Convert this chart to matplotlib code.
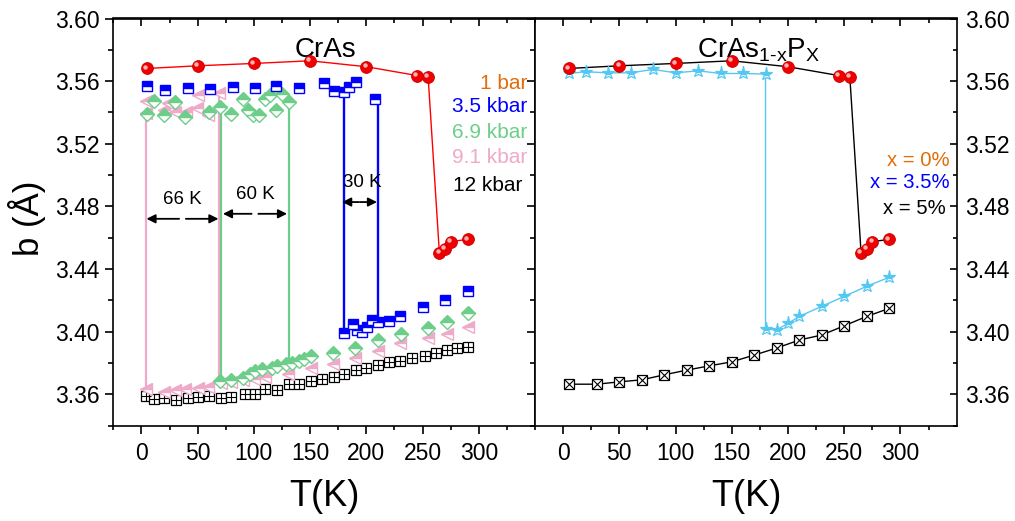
import matplotlib
matplotlib.use("Agg")
import matplotlib.pyplot as plt
from matplotlib.ticker import FixedLocator
from matplotlib.transforms import offset_copy

plt.rcParams['font.family'] = ['Liberation Sans', 'DejaVu Sans']
plt.rcParams['mathtext.fontset'] = 'custom'
plt.rcParams['mathtext.rm'] = 'Liberation Sans'
plt.rcParams['mathtext.it'] = 'Liberation Sans'

# ---------------- data ----------------
# CrAs, 1 bar (also x = 0 % in right panel)
T_1bar = [5, 50, 100, 150, 200, 245, 255, 265, 270, 275, 290]
b_1bar = [3.5681, 3.5698, 3.5713, 3.5730, 3.5692, 3.5636, 3.5624, 3.4500, 3.4530, 3.4576, 3.4589]

# 3.5 kbar
T_35_hi = [5, 21, 41, 61, 81, 101, 120, 140, 162, 171, 180, 185, 191, 208]
b_35_hi = [3.5568, 3.5542, 3.5557, 3.5549, 3.5564, 3.5557, 3.5568, 3.5555, 3.5585,
           3.5538, 3.5528, 3.5560, 3.5592, 3.5483]
T_35_lo = [180, 188, 192, 196, 201, 205, 210, 220, 230, 250, 270, 290]
b_35_lo = [3.3990, 3.4050, 3.4010, 3.4000, 3.4030, 3.4075, 3.4060, 3.4070, 3.4100,
           3.4160, 3.4205, 3.4260]

# 6.9 kbar
T_69_hi = [5, 11, 20, 30, 39, 60, 70, 80, 90, 95, 99, 105, 110, 114, 120, 125, 131]
b_69_hi = [3.5390, 3.5474, 3.5382, 3.5464, 3.5371, 3.5403, 3.5436, 3.5393, 3.5483,
           3.5414, 3.5382, 3.5382, 3.5483, 3.5510, 3.5414, 3.5521, 3.5468]
T_69_lo = [70, 80, 90, 97, 101, 107, 116, 121, 129, 134, 140, 145, 151, 170, 190, 210,
           231, 255, 272, 290]
b_69_lo = [3.3686, 3.3693, 3.3706, 3.3731, 3.3750, 3.3763, 3.3770, 3.3782, 3.3795,
           3.3802, 3.3814, 3.3827, 3.3846, 3.3866, 3.3898, 3.3949, 3.3987, 3.4026,
           3.4064, 3.4122]

# 9.1 kbar
T_91_hi = [4, 4, 20, 24, 30, 40, 49, 50, 59, 69]
b_91_hi = [3.5472, 3.5395, 3.5414, 3.5459, 3.5402, 3.5402, 3.5427, 3.5510, 3.5382, 3.5523]
T_91_lo = [4, 20, 30, 39, 50, 59, 71, 80, 90, 100, 110, 130, 151, 170, 190, 210, 230,
           255, 272, 290]
b_91_lo = [3.3633, 3.3612, 3.3625, 3.3633, 3.3643, 3.3648, 3.3675, 3.3680, 3.3691,
           3.3700, 3.3708, 3.3733, 3.3768, 3.3793, 3.3832, 3.3878, 3.3925, 3.3962,
           3.3987, 3.4032]

# 12 kbar
T_12 = [4, 11, 20, 31, 41, 50, 60, 71, 80, 92, 101, 110, 121, 131, 140, 151, 161, 171,
        180, 191, 200, 210, 220, 230, 241, 252, 262, 272, 281, 290]
b_12 = [3.3590, 3.3569, 3.3576, 3.3563, 3.3576, 3.3586, 3.3590, 3.3576, 3.3586, 3.3601,
        3.3605, 3.3633, 3.3627, 3.3665, 3.3665, 3.3686, 3.3701, 3.3708, 3.3733, 3.3755,
        3.3768, 3.3789, 3.3804, 3.3814, 3.3834, 3.3846, 3.3866, 3.3885, 3.3898, 3.3904]

# transitions (temperature, upper b, lower b)
trans_91 = [(4, 3.5395, 3.3633), (69, 3.5523, 3.3680)]
trans_69 = [(71, 3.5436, 3.3686), (131, 3.5468, 3.3795)]
trans_35 = [(180, 3.5528, 3.3990), (210, 3.5483, 3.4060)]

# hysteresis widths: (label, T_left, T_right, b_level)
widths = [("66 K", 4, 69, 3.4721), ("60 K", 72, 130, 3.4753), ("30 K", 178, 210, 3.4828)]

# CrAs1-xPx, x = 3.5 %
T_35P = [5, 20, 40, 60, 80, 100, 120, 140, 160, 180, 180, 190, 200, 210, 230, 250, 270, 290]
b_35P = [3.5649, 3.5660, 3.5653, 3.5653, 3.5675, 3.5653, 3.5666, 3.5649, 3.5649, 3.5645,
         3.4017, 3.4013, 3.4053, 3.4098, 3.4162, 3.4226, 3.4290, 3.4348]
# x = 5 %
T_5P = [5, 30, 50, 70, 90, 110, 130, 150, 170, 190, 210, 230, 250, 270, 290]
b_5P = [3.3665, 3.3665, 3.3680, 3.3693, 3.3725, 3.3755, 3.3782, 3.3808, 3.3851, 3.3896,
        3.3947, 3.3979, 3.4038, 3.4098, 3.4149]

left_labels = ["1 bar", "3.5 kbar", "6.9 kbar", "9.1 kbar", "12 kbar"]
right_labels = ["x = 0%", "x = 3.5%", "x = 5%"]

C_RED = '#FF0000'
C_ORANGE = '#E36C0A'
C_BLUE = '#0000FF'
C_GREEN = '#6DCE8A'
C_PINK = '#EFA9C9'
C_CYAN = '#55C8F2'

# ---------------- figure ----------------
W, H = 1015, 521
fig = plt.figure(figsize=(W / 100, H / 100), dpi=100)
x0, xm, x1 = 113.3, 535.0, 956.7
ytop, ybot = 18.5, 425.7
axL = fig.add_axes([x0 / W, 1 - ybot / H, (xm - x0) / W, (ybot - ytop) / H])
axR = fig.add_axes([xm / W, 1 - ybot / H, (x1 - xm) / W, (ybot - ytop) / H])

XMAJ = [0, 50, 100, 150, 200, 250, 300]
XMIN = [-25, 25, 75, 125, 175, 225, 275, 325]
YMAJ = [3.36, 3.40, 3.44, 3.48, 3.52, 3.56, 3.60]
YMIN = [3.34, 3.38, 3.42, 3.46, 3.50, 3.54, 3.58]

for ax in (axL, axR):
    ax.set_xlim(-25, 350)
    ax.set_ylim(3.34, 3.60)
    ax.xaxis.set_major_locator(FixedLocator(XMAJ))
    ax.xaxis.set_minor_locator(FixedLocator(XMIN))
    ax.yaxis.set_major_locator(FixedLocator(YMAJ))
    ax.yaxis.set_minor_locator(FixedLocator(YMIN))
    ax.yaxis.set_major_formatter(plt.FormatStrFormatter('%.2f'))
    for s in ax.spines.values():
        s.set_linewidth(1.2)
    ax.tick_params(axis='x', which='both', direction='out', top=False, bottom=True,
                   labelsize=16.5, width=1.2, pad=6.5)
    ax.tick_params(axis='x', which='major', length=5.5)
    ax.tick_params(axis='x', which='minor', length=3.2)
    secx = ax.secondary_xaxis('top')
    secx.xaxis.set_major_locator(FixedLocator(XMAJ))
    secx.xaxis.set_minor_locator(FixedLocator(XMIN))
    secx.tick_params(axis='x', which='both', direction='in', labeltop=False, width=1.2)
    secx.tick_params(axis='x', which='major', length=5.5)
    secx.tick_params(axis='x', which='minor', length=3.5)
    secx.spines['top'].set_linewidth(1.2)

# left panel y axis
axL.tick_params(axis='y', which='both', direction='out', left=True, right=False,
                labelsize=16.5, width=1.2, pad=4)
axL.tick_params(axis='y', which='major', length=5.8)
axL.tick_params(axis='y', which='minor', length=3.6)
secy = axL.secondary_yaxis('right')
secy.yaxis.set_major_locator(FixedLocator(YMAJ))
secy.yaxis.set_minor_locator(FixedLocator(YMIN))
secy.tick_params(axis='y', which='both', direction='in', labelright=False, width=1.2)
secy.tick_params(axis='y', which='major', length=5.8)
secy.tick_params(axis='y', which='minor', length=3.6)

# right panel y axis on right, inward
axR.tick_params(axis='y', which='both', direction='in', left=False, right=True,
                labelleft=False, labelright=True, labelsize=16.5, width=1.2, pad=6)
axR.tick_params(axis='y', which='major', length=5.0)
axR.tick_params(axis='y', which='minor', length=3.2)

MS = 7.0

def ball(ax, T, b, line_color):
    ax.plot(T, b, '-', color=line_color, lw=1.0, zorder=3)
    ax.plot(T, b, 'o', ms=8.5, mfc='#F00000', mec='#C80000', mew=0.6, zorder=5)
    tr = offset_copy(ax.transData, fig=fig, x=-1.3, y=1.4, units='points')
    ax.plot(T, b, 'o', ms=3.2, mfc='#FFB0B0', mec='none', transform=tr, zorder=6)

# ---- left panel ----
for T, hi, lo in trans_91:
    axL.plot([T, T], [hi, lo], '-', color=C_PINK, lw=1.6, zorder=2)
for T, hi, lo in trans_69:
    axL.plot([T, T], [hi, lo], '-', color=C_GREEN, lw=1.6, zorder=2)
for T, hi, lo in trans_35:
    axL.plot([T, T], [hi, lo], '-', color=C_BLUE, lw=1.7, zorder=2)

axL.plot(T_12, b_12, 's', ms=MS, mfc='white', mec='black', mew=0.9, zorder=4)
axL.plot(T_12, b_12, '+', ms=MS * 0.95, mec='black', mew=0.8, zorder=4)

axL.plot(T_91_hi, b_91_hi, '<', ms=MS + 1.5, fillstyle='top', mfc=C_PINK,
         mfcalt='white', mec=C_PINK, mew=1.0, zorder=4)
axL.plot(T_91_lo, b_91_lo, '<', ms=MS + 1.5, fillstyle='top', mfc=C_PINK,
         mfcalt='white', mec=C_PINK, mew=1.0, zorder=4)

axL.plot(T_69_hi, b_69_hi, 'D', ms=MS, fillstyle='top', mfc=C_GREEN,
         mfcalt='white', mec=C_GREEN, mew=1.0, zorder=4)
axL.plot(T_69_lo, b_69_lo, 'D', ms=MS, fillstyle='top', mfc=C_GREEN,
         mfcalt='white', mec=C_GREEN, mew=1.0, zorder=4)

axL.plot(T_35_hi, b_35_hi, 's', ms=MS, fillstyle='top', mfc=C_BLUE,
         mfcalt='white', mec=C_BLUE, mew=1.0, zorder=4)
axL.plot(T_35_lo, b_35_lo, 's', ms=MS, fillstyle='top', mfc=C_BLUE,
         mfcalt='white', mec=C_BLUE, mew=1.0, zorder=4)

ball(axL, T_1bar, b_1bar, C_RED)

# hysteresis arrows
for lab, ta, tb, bl in widths:
    mid = 0.5 * (ta + tb)
    gap = 3.0 if lab != "30 K" else 0.5
    arrow = dict(arrowstyle='-|>', color='black', lw=1.3, mutation_scale=13,
                 shrinkA=0, shrinkB=0)
    axL.annotate('', xy=(ta + 0.5, bl), xytext=(mid - gap, bl), arrowprops=arrow, zorder=6)
    axL.annotate('', xy=(tb - 0.5, bl), xytext=(mid + gap, bl), arrowprops=arrow, zorder=6)
    axL.text(mid + (2 if lab == "30 K" else 0), bl + 0.0125, lab, ha='center',
             va='center', fontsize=13.5, zorder=7)

axL.text(0.504, 0.9045, 'CrAs', transform=axL.transAxes, ha='center', va='baseline',
         fontsize=20)

lcols = [C_ORANGE, C_BLUE, C_GREEN, C_PINK, 'black']
lx = [0.983, 0.981, 0.981, 0.981, 0.969]
ly = [0.841, 0.7834, 0.7196, 0.659, 0.591]
for t, c, xx, yy in zip(left_labels, lcols, lx, ly):
    axL.text(xx, yy, t, color=c, transform=axL.transAxes, ha='right', va='center',
             fontsize=15)

# ---- right panel ----
axR.plot(T_35P, b_35P, '-', color=C_CYAN, lw=1.0, zorder=3)
axR.plot(T_35P, b_35P, '*', ms=MS + 2.5, fillstyle='top', mfc=C_CYAN, mfcalt='white',
         mec=C_CYAN, mew=0.9, zorder=4)
axR.plot(T_5P, b_5P, '-', color='black', lw=1.0, zorder=3)
axR.plot(T_5P, b_5P, 's', ms=MS, mfc='white', mec='black', mew=0.9, zorder=4)
axR.plot(T_5P, b_5P, 'x', ms=MS * 0.95, mec='black', mew=0.8, zorder=4)
ball(axR, T_1bar, b_1bar, 'black')

axR.text(0.384, 0.9045, r'CrAs$_{\mathrm{1\text{-}x}}$P$_{\mathrm{X}}$',
         transform=axR.transAxes, ha='left', va='baseline', fontsize=20)

rcols = [C_ORANGE, C_BLUE, 'black']
rx = [0.9825, 0.984, 0.9746]
ry = [0.6508, 0.5968, 0.5339]
for t, c, xx, yy in zip(right_labels, rcols, rx, ry):
    axR.text(xx, yy, t, color=c, transform=axR.transAxes, ha='right', va='center',
             fontsize=14.6)

# axis labels
fig.text(27 / W, 1 - 218 / H, 'b (Å)', rotation=90, ha='center', va='center', fontsize=25)
fig.text(324 / W, 1 - 497 / H, 'T(K)', ha='center', va='center', fontsize=26)
fig.text(746 / W, 1 - 497 / H, 'T(K)', ha='center', va='center', fontsize=26)

fig.savefig('out.png', dpi=100)
